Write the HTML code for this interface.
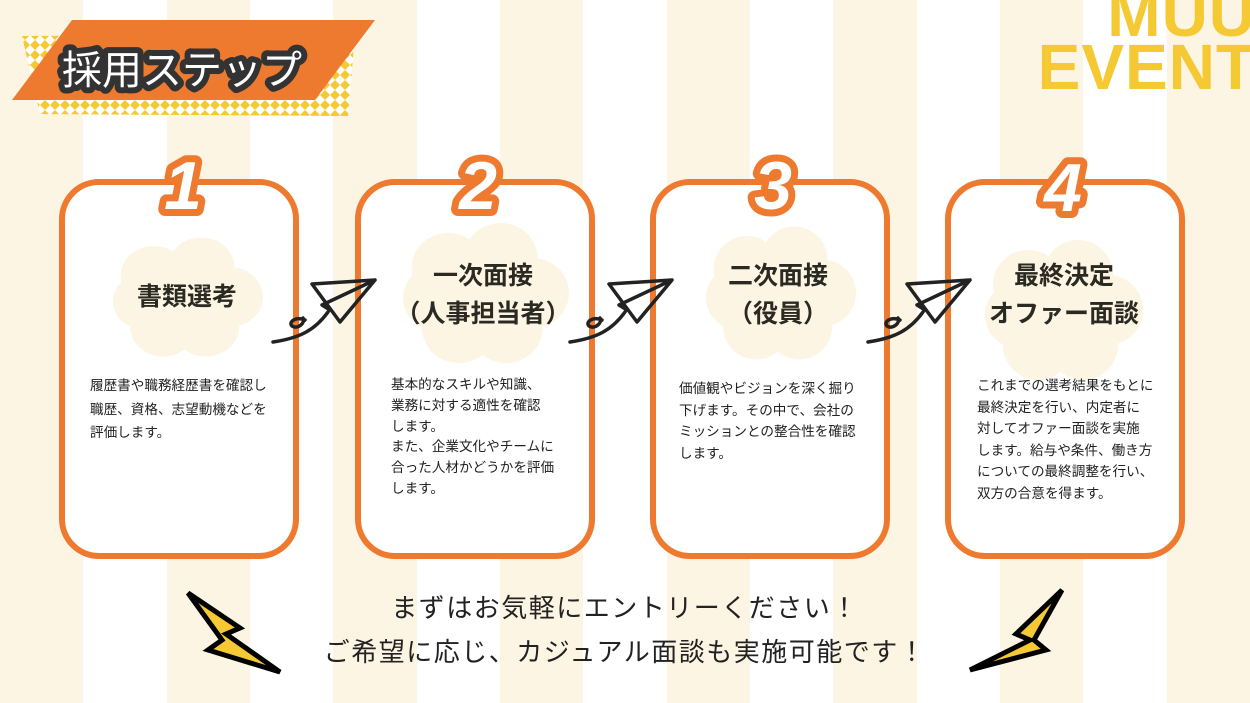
<!DOCTYPE html>
<html><head><meta charset="utf-8">
<style>
body{margin:0;width:1250px;height:703px;overflow:hidden;background:#fff;font-family:"Liberation Sans","Noto Sans CJK JP",sans-serif;}
.bg{position:absolute;top:0;width:83.4px;height:703px;background:#fdf5e3}
.card{position:absolute;top:179px;width:228px;height:368px;border:6px solid #ee7a30;border-radius:40px;background:#fff;box-sizing:content-box}
.desc{position:absolute;font-size:13.6px;line-height:21.5px;color:#222;white-space:nowrap}
.ttl{position:absolute;font-weight:bold;font-size:25px;line-height:38px;color:#2a2a22;text-align:center;width:240px}
.bot{position:absolute;left:0;width:1250px;text-align:center;font-size:26px;line-height:30px;color:#222;letter-spacing:1.5px}
</style></head><body>
<div class="bg" style="left:0"></div><div class="bg" style="left:166.7px"></div><div class="bg" style="left:333.3px"></div><div class="bg" style="left:500px"></div><div class="bg" style="left:666.7px"></div><div class="bg" style="left:833.3px"></div><div class="bg" style="left:1000px"></div><div class="bg" style="left:1166.7px"></div>

<div style="position:absolute;left:1030px;top:-12px;font:bold 64px 'Liberation Sans',sans-serif;color:#f5c933;line-height:53px;text-align:right;width:226px;letter-spacing:1px">MUU<br>EVENT</div>

<div class="card" style="left:59px"></div>
<div class="card" style="left:355px"></div>
<div class="card" style="left:650px"></div>
<div class="card" style="left:945px"></div>

<svg width="1250" height="703" style="position:absolute;left:0;top:0">
<defs>
<pattern id="chk" width="10" height="10" patternUnits="userSpaceOnUse"><rect width="10" height="10" fill="#fff"/><path d="M5 0L10 5L5 10L0 5Z" fill="#f5c933"/></pattern>
<g id="cloud"><circle cx="-35" cy="-25" r="35"/><circle cx="15" cy="-35" r="35"/><circle cx="45" cy="0" r="35"/><circle cx="20" cy="35" r="35"/><circle cx="-25" cy="35" r="35"/><circle cx="-45" cy="5" r="33"/><circle cx="0" cy="0" r="40"/></g>
<g id="plane" fill="none" stroke="#222" stroke-width="3.5" stroke-linejoin="round" stroke-linecap="round"><path d="M312 284 L375 280 L340 322 Z M375 280 L322 305 L330 310"/><path d="M273 342 C300 338 315 330 328 312 M305 320 C296 316 288 322 292 326 C298 330 306 322 303 318"/></g>
</defs>
<path d="M22 36 L355 34 L348 116 L40 114 Z" fill="url(#chk)"/>
<path d="M12 100 L72 20 L375 20 L315 100 Z" fill="#ee7a30"/>
<text x="182" y="84" font-size="40" text-anchor="middle" fill="#fff" stroke="#333" stroke-width="12" stroke-linejoin="round" paint-order="stroke" font-family="Liberation Sans,Noto Sans CJK JP,sans-serif">採用ステップ</text>
<g fill="#fdf5e3">
<use href="#cloud" transform="translate(187,297) scale(0.95,0.85)"/>
<use href="#cloud" transform="translate(485,293) scale(1.05,1.0)"/>
<use href="#cloud" transform="translate(780,293) scale(0.95,0.95)"/>
<use href="#cloud" transform="translate(1063,310) scale(1.0,1.0)"/>
</g>
<g font-family="Liberation Sans,sans-serif" font-weight="bold" font-style="italic" font-size="68" fill="#fff" stroke="#ee7a30" stroke-width="14" stroke-linejoin="round" paint-order="stroke" text-anchor="middle">
<text x="183" y="209">1</text><text x="478" y="209">2</text><text x="773" y="209">3</text><text x="1063" y="211">4</text>
</g>
<use href="#plane"/><use href="#plane" transform="translate(297,0)"/><use href="#plane" transform="translate(595,0)"/>
<g stroke="#000" stroke-width="5" stroke-linejoin="miter">
<path d="M188 593 L240 628 L226 634 L280 672 L208 650 L222 640 Z" fill="#f5c933"/>
<path d="M1062 590 L1016 634 L1030 640 L970 670 L1046 650 L1034 640 Z" fill="#f5c933"/>
</g>
</svg>

<div class="ttl" style="left:67px;top:278px">書類選考</div>
<div class="ttl" style="left:363px;top:257px">一次面接<br>（人事担当者）</div>
<div class="ttl" style="left:658px;top:257px">二次面接<br>（役員）</div>
<div class="ttl" style="left:944px;top:257px">最終決定<br>オファー面談</div>

<div class="desc" style="left:90px;top:374px;line-height:23.5px">履歴書や職務経歴書を確認し<br>職歴、資格、志望動機などを<br>評価します。</div>
<div class="desc" style="left:391px;top:375px;line-height:20.8px">基本的なスキルや知識、<br>業務に対する適性を確認<br>します。<br>また、企業文化やチームに<br>合った人材かどうかを評価<br>します。</div>
<div class="desc" style="left:679px;top:378px">価値観やビジョンを深く掘り<br>下げます。その中で、会社の<br>ミッションとの整合性を確認<br>します。</div>
<div class="desc" style="left:977px;top:375px">これまでの選考結果をもとに<br>最終決定を行い、内定者に<br>対してオファー面談を実施<br>します。給与や条件、働き方<br>についての最終調整を行い、<br>双方の合意を得ます。</div>

<div class="bot" style="top:593px">まずはお気軽にエントリーください！</div>
<div class="bot" style="top:637px">ご希望に応じ、カジュアル面談も実施可能です！</div>
</body></html>
